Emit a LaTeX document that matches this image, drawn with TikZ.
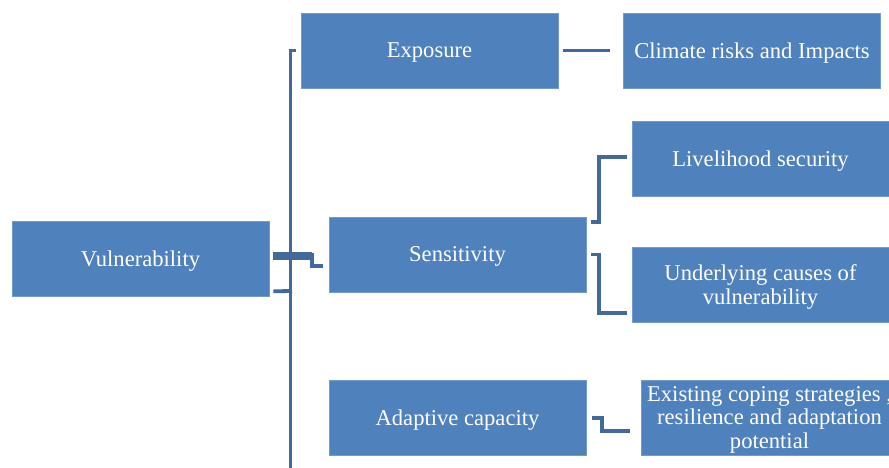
\documentclass[tikz,border=0pt]{standalone}
\usepackage{fontspec}
\setmainfont{Liberation Serif}
\usetikzlibrary{calc}

\definecolor{boxblue}{HTML}{4F81BD}
\definecolor{linkblue}{HTML}{41699B}

\tikzset{
  box/.style={fill=boxblue, draw=boxblue!80!white, line width=.6pt, text=white,
    minimum width=257, minimum height=75, inner sep=2pt, align=center,
    text depth=0pt, font=\fontsize{22.6}{23.5}\selectfont},
  link/.style={draw=linkblue, line width=3.8pt}
}

\begin{document}
\begin{tikzpicture}[x=1pt, y=-1pt]
      \clip (0, 0) rectangle (889, 468);
      \node[box] (vul) at (140.5, 258.5) {Vulnerability};
      \node[box] (exp) at (429.5, 50.5) {Exposure};
      \node[box] (clim) at (752, 50.5) {Climate risks and Impacts};
      \node[box] (sen) at (457.5, 254.5) {Sensitivity};
      \node[box] (liv) at (760.5, 158.5) {Livelihood security};
      \node[box] (und) at (760.5, 284.5) {Underlying causes of\\vulnerability};
      \node[box] (ada) at (457.5, 417.5) {Adaptive capacity};
      \node[box] (cop) at (769.5, 417.5) {Existing coping strategies ,\\resilience and adaptation\\potential};
      \coordinate (bot) at (290.5, 472);
      % trunk and the bracket of the root
      \draw[link] (bot) |- ($(exp.west)+(-5, 0)$);
      \draw[link, line width=7.5pt] ($(vul.east)+(4, -2.5)$) -- (312, 256);
      \draw[link] ($(vul.south east)+(4, -5)$) -- (292, 291);
      \draw[link] (312, 252.5) |- ($(sen.west)+(-6, 11.5)$);
      % second level
      \draw[link, shorten <=5, shorten >=13] (exp.east) -- (clim.west);
      \draw[link] ($(sen.north east)+(5, 5)$) -- ++(8, 0) |- ($(liv.west)+(-5, -1.5)$);
      \draw[link] ($(sen.east)+(5, 0)$) -- ++(8, 0) |- ($(und.west)+(-5, 28.5)$);
      \draw[link] ($(ada.east)+(6, 0.5)$) -- ++(10, 0) |- ($(cop.west)+(-11, 13.5)$);
\end{tikzpicture}
\end{document}
